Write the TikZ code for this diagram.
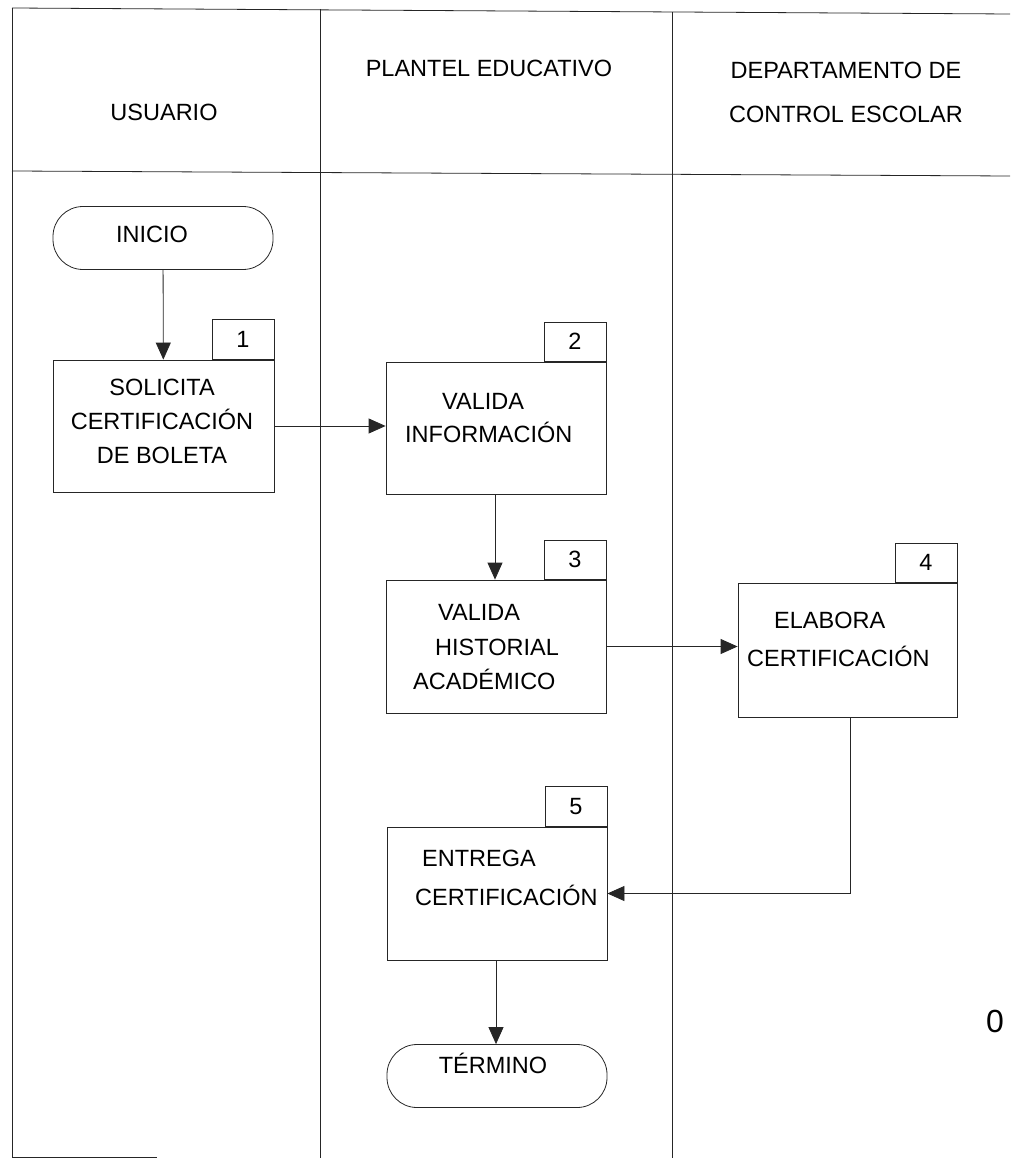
\documentclass[tikz,border=0pt]{standalone}
\usepackage{fontspec}
\setmainfont{Liberation Sans}
\usetikzlibrary{arrows.meta}
\begin{document}
\begin{tikzpicture}[x=1pt,y=-1pt,
  line/.style={draw=black!85, line width=0.8pt},
  flow/.style={line, -{Triangle[length=17pt,width=15pt]}},
  stepbox/.style={line, rectangle, minimum width=220pt, minimum height=133pt, inner sep=0pt},
  tab/.style={line, rectangle, minimum width=62pt, minimum height=40pt, inner sep=0pt,
    anchor=south east, font=\fontsize{23.5}{28}\selectfont},
  term/.style={line, rectangle, rounded corners=30pt, minimum width=220pt, minimum height=63pt},
  txt/.style={font=\fontsize{23.5}{34}\selectfont, inner sep=0pt, align=left, anchor=west},
  head/.style={font=\fontsize{23.5}{44}\selectfont, inner sep=0pt, align=center},
  ]
\useasboundingbox (0,0) rectangle (1010,1158);

% swimlane frame
\coordinate (tl) at (12,8);
\coordinate (tr) at (1010,14);
\coordinate (hl) at (12,171);
\coordinate (hr) at (1010,176);
\coordinate (bl) at (12,1157);
\coordinate (br) at (157,1157);
\draw[line] (tl) -- (tr);
\draw[line] (hl) -- (hr);
\draw[line] (tl) -- (bl) -- (br);
\coordinate (c1t) at (320,9);
\coordinate (c1b) at (320,1158);
\coordinate (c2t) at (672,12);
\coordinate (c2b) at (672,1158);
\draw[line] (c1t) -- (c1b);
\draw[line] (c2t) -- (c2b);

% lane headings
\node[head] (h1) at (164,112) {USUARIO};
\node[head] (h2) at (489,68) {PLANTEL EDUCATIVO};
\node[head] (h3) at (846,92) {DEPARTAMENTO DE\\CONTROL ESCOLAR};

% start
\node[term] (inicio) at (163,238) {};
\node[txt, anchor=center] (inicioT) at (152,234) {INICIO};

% step 1
\node[stepbox, minimum width=221pt, minimum height=132pt] (b1) at (163.5,426) {};
\node[tab] (t1) at (b1.north east) {1};
\node[txt, align=center, anchor=center] (b1T) at (162,421) {SOLICITA\\CERTIFICACIÓN\\DE BOLETA};

% step 2
\node[stepbox, minimum height=132pt] (b2) at (496,428) {};
\node[tab, minimum height=39pt] (t2) at (b2.north east) {2};
\node[txt, font=\fontsize{23.5}{33}\selectfont] (b2T) at (405,418.5) {\hspace*{37pt}VALIDA\\INFORMACIÓN};

% step 3
\node[stepbox] (b3) at (496,646.5) {};
\node[tab, minimum height=39pt] (t3) at (b3.north east) {3};
\node[txt, font=\fontsize{23.5}{34.5}\selectfont] (b3T) at (413,647.5) {\hspace*{25pt}VALIDA\\\hspace*{22pt}HISTORIAL\\ACADÉMICO};

% step 4
\node[stepbox, minimum width=219pt, minimum height=134pt] (b4) at (847.5,650) {};
\node[tab, minimum height=39pt] (t4) at (b4.north east) {4};
\node[txt, font=\fontsize{23.5}{38}\selectfont] (b4T) at (747,639) {\hspace*{27pt}ELABORA\\CERTIFICACIÓN};

% step 5
\node[stepbox] (b5) at (497,893.5) {};
\node[tab] (t5) at (b5.north east) {5};
\node[txt, font=\fontsize{23.5}{39}\selectfont] (b5T) at (415,877.5) {\hspace*{7pt}ENTREGA\\CERTIFICACIÓN};

% end
\node[term] (fin) at (497,1076) {};
\node[txt, anchor=center] (finT) at (493,1063) {TÉRMINO};

% connectors
\draw[flow] (inicio) -- (b1);
\draw[flow] (b1.east) -- (b1.east -| b2.west);
\draw[flow] (b2.south -| 495,0) -- (b3.north -| 495,0);
\draw[flow] (b3.east) -- (b3.east -| b4.west);
\draw[flow] (b4.south -| 850,0) |- (b5.east);
\draw[flow] (b5.south -| 496,0) -- (fin.north -| 496,0);

% margin mark
\node[txt] (mark) at (986,1021) {\fontsize{32}{36}\selectfont 0};
\end{tikzpicture}
\end{document}
